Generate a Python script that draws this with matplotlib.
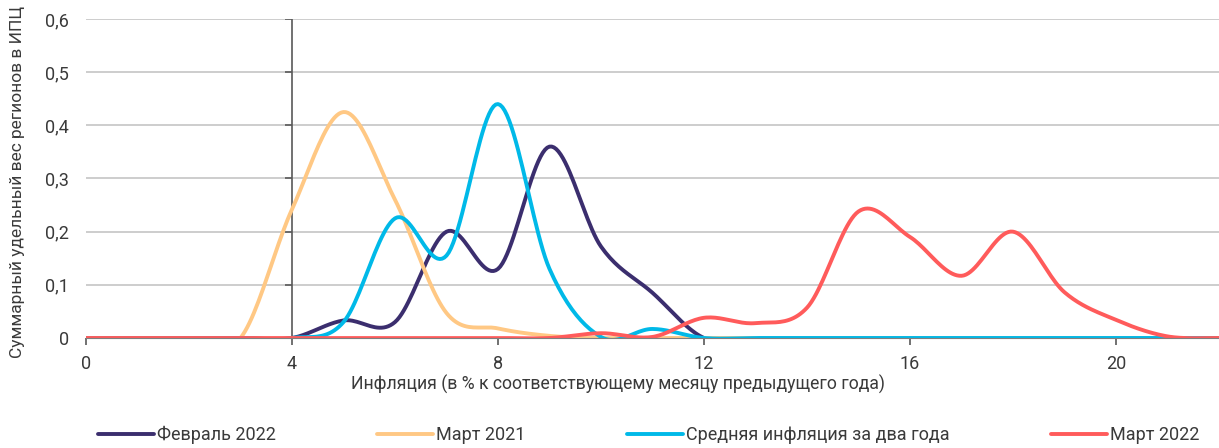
import matplotlib

matplotlib.use("Agg")
import matplotlib.pyplot as plt
import numpy as np
from matplotlib.ticker import FuncFormatter

plt.rcParams["font.family"] = ["Roboto", "DejaVu Sans"]

# inflation, % (points every 1 p.p.)
x_vals = list(range(0, 23))
feb_2022 = [0, 0, 0, 0, 0, 0.033, 0.03, 0.2, 0.13, 0.36, 0.172, 0.085, 0,
            0, 0, 0, 0, 0, 0, 0, 0, 0, 0]
mar_2021 = [0, 0, 0, 0, 0.242, 0.425, 0.26, 0.047, 0.018, 0.004, 0, 0, 0,
            0, 0, 0, 0, 0, 0, 0, 0, 0, 0]
avg_2y = [0, 0, 0, 0, 0, 0.03, 0.225, 0.155, 0.44, 0.13, 0.002, 0.017, 0,
          0, 0, 0, 0, 0, 0, 0, 0, 0, 0]
mar_2022 = [0, 0, 0, 0, 0, 0, 0, 0, 0, 0, 0.009, 0.002, 0.038,
            0.028, 0.057, 0.238, 0.19, 0.117, 0.2, 0.086, 0.034, 0.003, 0]

series = [
    ("Февраль 2022", feb_2022, "#3b2e6e"),
    ("Март 2021", mar_2021, "#ffc884"),
    ("Средняя инфляция за два года", avg_2y, "#00b9e8"),
    ("Март 2022", mar_2022, "#ff5b5b"),
]


def smooth(x, y, n=24):
    # Excel-style smoothed line (Catmull-Rom as cubic Bezier)
    pts = np.column_stack([x, y]).astype(float)
    pad = np.vstack([pts[0], pts, pts[-1]])
    t = np.linspace(0, 1, n)[:, None]
    out = []
    for i in range(len(pts) - 1):
        p0, p1, p2, p3 = pad[i], pad[i + 1], pad[i + 2], pad[i + 3]
        c1 = p1 + (p2 - p0) / 6
        c2 = p2 - (p3 - p1) / 6
        seg = (1 - t) ** 3 * p1 + 3 * (1 - t) ** 2 * t * c1 + 3 * (1 - t) * t ** 2 * c2 + t ** 3 * p2
        out.append(seg if i == 0 else seg[1:])
    out = np.vstack(out)
    return out[:, 0], out[:, 1]


fig = plt.figure(figsize=(12.19, 4.48), dpi=100)
ax = fig.add_axes([86 / 1219, 110 / 448, 1 - 86 / 1219, 319 / 448])

yticks = [0, 0.1, 0.2, 0.3, 0.4, 0.5, 0.6]
for y in yticks[1:]:
    ax.axhline(y, color="#c9c9c9", lw=1.3, zorder=0)
ax.axvline(4, color="#595959", lw=1.2, zorder=1)
ax.plot([4] * len(yticks), yticks, ls="none", marker=0, ms=5, mew=1.2, color="#595959", zorder=1)

for label, vals, color in series:
    xs, ys = smooth(x_vals, vals)
    ax.plot(xs, ys, color=color, lw=2.8, label=label, solid_capstyle="round", zorder=2)

ax.set_xlim(0, 22)
ax.set_ylim(0, 0.6)
ax.set_xticks([0, 4, 8, 12, 16, 20])
ax.set_yticks(yticks)
ax.yaxis.set_major_formatter(FuncFormatter(lambda v, p: "0" if v == 0 else f"{v:.1f}".replace(".", ",")))
for s in ["top", "right", "left"]:
    ax.spines[s].set_visible(False)
ax.spines["bottom"].set_color("#7f7f7f")
ax.tick_params(axis="x", direction="out", length=5, width=1.2, color="#595959", pad=7, labelsize=13, labelcolor="#3a3a3a")
ax.tick_params(axis="y", length=0, pad=12.5, labelsize=13, labelcolor="#3a3a3a")

ax.set_xlabel("Инфляция (в % к соответствующему месяцу предыдущего года)", fontsize=12.7, color="#3a3a3a")
ax.xaxis.set_label_coords((618 - 86) / 1133, (338 - 384) / 319)
ax.set_ylabel("Суммарный удельный вес регионов в ИПЦ", fontsize=12.5, color="#3a3a3a")
ax.yaxis.set_label_coords((18 - 86) / 1133, (338 - 182) / 319)
ax.xaxis.label.set_va("center")
ax.yaxis.label.set_va("center")

fig.legend(
    loc="center left",
    bbox_to_anchor=(98 / 1219, 13 / 448),
    ncol=4,
    frameon=False,
    fontsize=13,
    handlelength=3.1,
    handletextpad=0.15,
    columnspacing=5.63,
    borderpad=0,
    borderaxespad=0,
    labelcolor="#3a3a3a",
)

fig.savefig("out.png", dpi=100, facecolor="white")
